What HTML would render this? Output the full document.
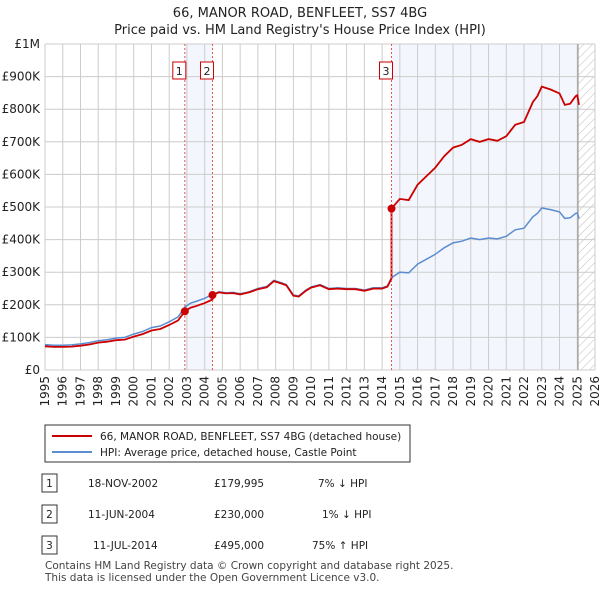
<!DOCTYPE html>
<html><head><meta charset="utf-8"><style>
body{margin:0;background:#fff;font-family:"Liberation Sans","DejaVu Sans",sans-serif;}
svg text{font-family:"DejaVu Sans","Liberation Sans",sans-serif;}
</style></head><body>
<svg width="600" height="590" viewBox="0 0 600 590" xmlns="http://www.w3.org/2000/svg" id="chart">
<defs><pattern id="hatch" width="6" height="6" patternUnits="userSpaceOnUse" patternTransform="rotate(45)"><line x1="0" y1="0" x2="0" y2="6" stroke="#bbb" stroke-width="1"/></pattern></defs>
<text x="300" y="17" text-anchor="middle" font-size="13" fill="#222">66, MANOR ROAD, BENFLEET, SS7 4BG</text>
<text x="300" y="34" text-anchor="middle" font-size="13" fill="#222">Price paid vs. HM Land Registry's House Price Index (HPI)</text>
<g id="plot"></g>
<g id="legend">
<rect x="45" y="425" width="365" height="37" fill="#fff" stroke="#333" stroke-width="1"/>
<line x1="52" y1="436" x2="92" y2="436" stroke="#cc0000" stroke-width="2"/>
<text x="100" y="440" font-size="10.5" fill="#222">66, MANOR ROAD, BENFLEET, SS7 4BG (detached house)</text>
<line x1="52" y1="452" x2="92" y2="452" stroke="#5b8dd0" stroke-width="2"/>
<text x="100" y="456" font-size="10.5" fill="#222">HPI: Average price, detached house, Castle Point</text>
</g>
<g id="table" font-size="10.5" fill="#222">
<rect x="42" y="474" width="15" height="18" fill="#fff" stroke="#333"/><text x="49.5" y="487" text-anchor="middle">1</text>
<text x="88" y="487">18-NOV-2002</text><text x="214" y="487">£179,995</text><text x="318" y="487">7% ↓ HPI</text>
<rect x="42" y="505" width="15" height="18" fill="#fff" stroke="#333"/><text x="49.5" y="518" text-anchor="middle">2</text>
<text x="88" y="518">11-JUN-2004</text><text x="214" y="518">£230,000</text><text x="322" y="518">1% ↓ HPI</text>
<rect x="42" y="536" width="15" height="18" fill="#fff" stroke="#333"/><text x="49.5" y="549" text-anchor="middle">3</text>
<text x="93" y="549">11-JUL-2014</text><text x="214" y="549">£495,000</text><text x="312" y="549">75% ↑ HPI</text>
</g>
<text x="45" y="569" font-size="10.5" fill="#444">Contains HM Land Registry data © Crown copyright and database right 2025.</text>
<text x="45" y="581" font-size="10.5" fill="#444">This data is licensed under the Open Government Licence v3.0.</text>
</svg>
<script>
const hpiYears=[1995,1995.5,1996,1996.5,1997,1997.5,1998,1998.5,1999,1999.5,2000,2000.5,2001,2001.5,2002,2002.5,2002.88,2003.2,2003.5,2004,2004.44,2004.8,2005.2,2005.6,2006,2006.5,2007,2007.5,2007.9,2008.3,2008.6,2009,2009.3,2009.7,2010,2010.5,2011,2011.5,2012,2012.5,2013,2013.5,2014,2014.3,2014.53,2015,2015.5,2016,2016.5,2017,2017.5,2018,2018.5,2019,2019.5,2020,2020.5,2021,2021.5,2022,2022.5,2022.75,2023,2023.5,2024,2024.3,2024.6,2024.9,2025.0,2025.1];
const hpiValues=[78,76,76,77,80,84,90,93,98,100,110,118,130,135,148,163,193,205,210,220,232,240,237,238,234,240,250,256,275,268,262,230,227,245,255,262,250,252,250,250,245,252,252,258,283,300,298,325,340,355,375,390,395,405,400,405,402,410,430,435,470,480,497,492,485,465,467,480,482,465];
const saleDates=[2002.88,2004.44,2014.53];
const salePrices=[179995,230000,495000];
const saleLabels=["1","2","3"];
const yTicks=[0,100000,200000,300000,400000,500000,600000,700000,800000,900000,1000000];
const yTickLabels=["£0","£100K","£200K","£300K","£400K","£500K","£600K","£700K","£800K","£900K","£1M"];
const xStart=1995,xEnd=2026,dataEnd=2025.04;

const NS="http://www.w3.org/2000/svg";
const L=45,R=595,T=44,B=370;
const xs=y=>L+(y-xStart)/(xEnd-xStart)*(R-L);
const ys=v=>B-v/1000000*(B-T);
const g=document.getElementById('plot');
function mk(t,a,p){const e=document.createElementNS(NS,t);for(const k in a)e.setAttribute(k,a[k]);(p||g).appendChild(e);return e;}
function hpiAt(t){for(let i=1;i<hpiYears.length;i++){if(t<=hpiYears[i]){const f=(t-hpiYears[i-1])/(hpiYears[i]-hpiYears[i-1]);return (hpiValues[i-1]+f*(hpiValues[i]-hpiValues[i-1]))*1000;}}return hpiValues[hpiValues.length-1]*1000;}
let s1=mk('rect',{x:xs(saleDates[0]),y:T,width:xs(saleDates[1])-xs(saleDates[0]),height:B-T,fill:'#eef2fb',opacity:0.7});


let s2=mk('rect',{x:xs(saleDates[2]),y:T,width:xs(dataEnd)-xs(saleDates[2]),height:B-T,fill:'#eef2fb',opacity:0.7});


let h=mk('rect',{x:xs(dataEnd),y:T,width:R-xs(dataEnd),height:B-T,fill:'url(#hatch)'});


yTicks.forEach((v,i)=>{
 mk('line',{x1:L,x2:R,y1:ys(v),y2:ys(v),stroke:'#ccc','stroke-width':1});
 const t=mk('text',{x:L-5,y:ys(v)+4,'text-anchor':'end','font-size':12,fill:'#222'});t.textContent=yTickLabels[i];
 
 
});
for(let yr=xStart;yr<=xEnd;yr++){
 mk('line',{x1:xs(yr),x2:xs(yr),y1:T,y2:B,stroke:'#ccc','stroke-width':1});
 const t=mk('text',{transform:`translate(${xs(yr)+4},${B+6}) rotate(-90)`,'text-anchor':'end','font-size':12,fill:'#222'});t.textContent=yr;
 
 
}
mk('line',{x1:xs(dataEnd),x2:xs(dataEnd),y1:T,y2:B,stroke:'#999','stroke-width':1.2});
let pts=hpiYears.map((y,i)=>xs(y).toFixed(1)+','+ys(hpiValues[i]*1000).toFixed(1)).join(' ');
let hl=mk('polyline',{points:pts,fill:'none',stroke:'#5b8dd0','stroke-width':1.5});


let rp=[];
hpiYears.forEach(t=>{
 let k=0;for(let j=0;j<saleDates.length;j++)if(t>=saleDates[j])k=j;
 rp.push([t,salePrices[k]*hpiAt(t)/hpiAt(saleDates[k])]);
});
let full=[];
hpiYears.forEach((t,i)=>{
 saleDates.forEach((d,j)=>{ if(j>0 && t===d){const prev=salePrices[j-1]*hpiAt(d)/hpiAt(saleDates[j-1]);full.push([d,prev]);} });
 full.push(rp[i]);
});
let pl=mk('polyline',{points:full.map(p=>xs(p[0]).toFixed(1)+','+ys(p[1]).toFixed(1)).join(' '),fill:'none',stroke:'#cc0000','stroke-width':1.8});


saleDates.forEach((d,i)=>{
 const x=xs(d);
 let vl=mk('line',{x1:x,x2:x,y1:T,y2:B,stroke:'#e55','stroke-width':1,'stroke-dasharray':'2,2'});
 
 
 let c=mk('circle',{cx:x,cy:ys(salePrices[i]),r:4,fill:'#cc0000'});
 
 
 let bx=mk('rect',{x:x-12,y:62,width:13,height:17,fill:'#fff',stroke:'#cc0000'});
 
 
 let tx=mk('text',{x:x-5.5,y:75,'text-anchor':'middle','font-size':11,fill:'#222'});tx.textContent=saleLabels[i];
 
 
});
</script>
</body></html>
